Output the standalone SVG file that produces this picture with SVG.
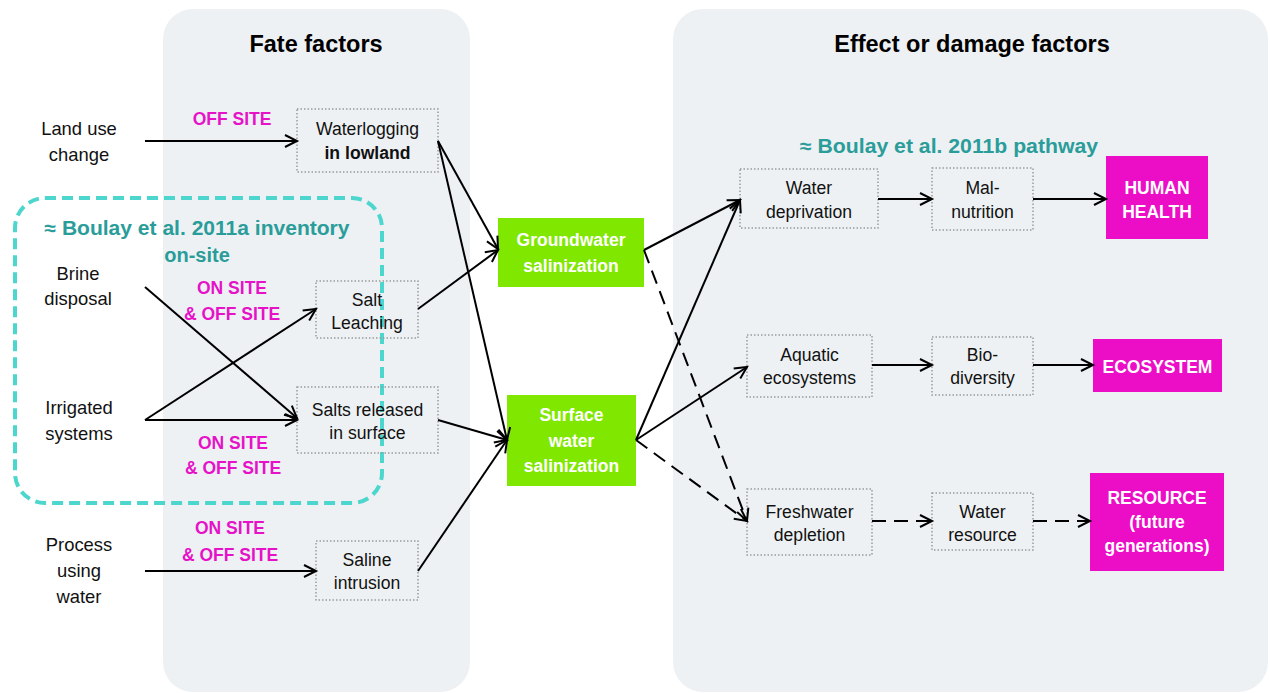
<svg xmlns="http://www.w3.org/2000/svg" width="1270" height="693" viewBox="0 0 1270 693">
<defs>
<style>
.panel{fill:#eef1f4;stroke:none}
.t{font-family:"Liberation Sans",Arial,sans-serif;font-size:17.6px;fill:#111;text-anchor:middle}
.lbl{font-family:"Liberation Sans",Arial,sans-serif;font-size:18.4px;fill:#111;text-anchor:middle}
.title{font-family:"Liberation Sans",Arial,sans-serif;font-size:23.5px;font-weight:bold;fill:#000;text-anchor:middle}
.mag{font-family:"Liberation Sans",Arial,sans-serif;font-size:17.5px;font-weight:bold;fill:#e512c8;text-anchor:middle}
.teal{font-family:"Liberation Sans",Arial,sans-serif;font-size:20px;font-weight:bold;fill:#2a9d9a;text-anchor:middle}
.w{font-family:"Liberation Sans",Arial,sans-serif;font-size:17.5px;font-weight:bold;fill:#fff;text-anchor:middle}
.dot{fill:none;stroke:#9a9a9a;stroke-width:1.5;stroke-dasharray:1.5 2}
.green{fill:#80e800}
.pink{fill:#ec0dc6}
.c{fill:none;stroke:#000;stroke-width:2;marker-end:url(#ah)}
.d{stroke-dasharray:14 8}
</style>
<marker id="ah" markerUnits="userSpaceOnUse" markerWidth="16" markerHeight="16" refX="13" refY="7" orient="auto" viewBox="0 0 16 14">
<path d="M1,1 L13,7 L1,13" fill="none" stroke="#000" stroke-width="2"/>
</marker>
</defs>
<rect width="1270" height="693" fill="#fff"/>
<g id="panels">
<rect class="panel" x="163" y="9" width="307" height="683" rx="30"/>
<rect class="panel" x="673" y="9" width="595" height="683" rx="30"/>
<text class="title" x="316" y="52">Fate factors</text>
<text class="title" x="972" y="52">Effect or damage factors</text>
</g>
<g id="inventory-frame">
<rect x="15" y="198" width="367" height="305" rx="30" fill="none" stroke="#4dd6cd" stroke-width="4" stroke-dasharray="11 6"/>
<text class="teal" x="197" y="235" textLength="305" lengthAdjust="spacingAndGlyphs">≈ Boulay et al. 2011a inventory</text>
<text class="teal" x="197" y="262">on-site</text>
</g>
<g id="pathway-label">
<text class="teal" x="949" y="153" textLength="298" lengthAdjust="spacingAndGlyphs">≈ Boulay et al. 2011b pathway</text>
</g>
<g id="land-use"><text class="lbl" x="79" y="135">Land use</text><text class="lbl" x="79" y="161">change</text></g>
<g id="brine"><text class="lbl" x="78" y="280">Brine</text><text class="lbl" x="78" y="305">disposal</text></g>
<g id="irrigated"><text class="lbl" x="79" y="414">Irrigated</text><text class="lbl" x="79" y="440">systems</text></g>
<g id="process"><text class="lbl" x="79" y="551">Process</text><text class="lbl" x="79" y="577">using</text><text class="lbl" x="79" y="603">water</text></g>
<g id="site-labels">
<text class="mag" x="232" y="125">OFF SITE</text>
<text class="mag" x="232" y="294">ON SITE</text><text class="mag" x="232" y="320">&amp; OFF SITE</text>
<text class="mag" x="233" y="449">ON SITE</text><text class="mag" x="233" y="474">&amp; OFF SITE</text>
<text class="mag" x="230" y="534">ON SITE</text><text class="mag" x="230" y="561">&amp; OFF SITE</text>
</g>
<g id="waterlogging"><rect class="dot" x="297" y="109" width="141" height="63"/><text class="t" x="367.5" y="135">Waterlogging</text><text class="t" x="367.5" y="159" font-weight="bold">in lowland</text></g>
<g id="salt-leaching"><rect class="dot" x="316" y="281" width="102" height="57"/><text class="t" x="367" y="306">Salt</text><text class="t" x="367" y="329">Leaching</text></g>
<g id="salts-released"><rect class="dot" x="297" y="387" width="141" height="66"/><text class="t" x="367.5" y="416">Salts released</text><text class="t" x="367.5" y="439">in surface</text></g>
<g id="saline-intrusion"><rect class="dot" x="316" y="541" width="102" height="59"/><text class="t" x="367" y="566">Saline</text><text class="t" x="367" y="589">intrusion</text></g>
<g id="groundwater"><rect class="green" x="498" y="218" width="146" height="69"/><text class="w" x="571" y="246">Groundwater</text><text class="w" x="571" y="272">salinization</text></g>
<g id="surface-water"><rect class="green" x="507" y="395" width="129" height="91"/><text class="w" x="571.5" y="421">Surface</text><text class="w" x="571.5" y="447">water</text><text class="w" x="571.5" y="472">salinization</text></g>
<g id="water-deprivation"><rect class="dot" x="740" y="169" width="138" height="59"/><text class="t" x="809" y="194">Water</text><text class="t" x="809" y="218">deprivation</text></g>
<g id="aquatic"><rect class="dot" x="747" y="335" width="125" height="62"/><text class="t" x="809.5" y="361">Aquatic</text><text class="t" x="809.5" y="384">ecosystems</text></g>
<g id="freshwater"><rect class="dot" x="747" y="489" width="125" height="66"/><text class="t" x="809.5" y="518">Freshwater</text><text class="t" x="809.5" y="541">depletion</text></g>
<g id="malnutrition"><rect class="dot" x="932" y="168" width="101" height="62"/><text class="t" x="982.5" y="194">Mal-</text><text class="t" x="982.5" y="218">nutrition</text></g>
<g id="biodiversity"><rect class="dot" x="932" y="337" width="101" height="58"/><text class="t" x="982.5" y="361">Bio-</text><text class="t" x="982.5" y="384">diversity</text></g>
<g id="water-resource"><rect class="dot" x="932" y="493" width="101" height="57"/><text class="t" x="982.5" y="518">Water</text><text class="t" x="982.5" y="541">resource</text></g>
<g id="human-health"><rect class="pink" x="1106" y="156" width="102" height="83"/><text class="w" x="1157" y="194">HUMAN</text><text class="w" x="1157" y="218">HEALTH</text></g>
<g id="ecosystem"><rect class="pink" x="1093" y="339" width="129" height="53"/><text class="w" x="1157.5" y="373">ECOSYSTEM</text></g>
<g id="resource"><rect class="pink" x="1090" y="473" width="134" height="98"/><text class="w" x="1157" y="504">RESOURCE</text><text class="w" x="1157" y="528">(future</text><text class="w" x="1157" y="552">generations)</text></g>
<g id="connectors">
<line class="c" x1="145" y1="141" x2="297" y2="141"/>
<line class="c" x1="145" y1="287" x2="297" y2="418"/>
<line class="c" x1="145" y1="420" x2="316" y2="309"/>
<line class="c" x1="145" y1="420" x2="297" y2="420"/>
<line class="c" x1="145" y1="571" x2="316" y2="571"/>
<line class="c" x1="438" y1="141" x2="498" y2="249"/>
<line class="c" x1="438" y1="141" x2="507" y2="440"/>
<line class="c" x1="418" y1="309" x2="498" y2="250"/>
<line class="c" x1="438" y1="420" x2="507" y2="440"/>
<line class="c" x1="418" y1="571" x2="507" y2="440"/>
<line class="c" x1="644" y1="250" x2="740" y2="200"/>
<line class="c d" x1="644" y1="250" x2="747" y2="521"/>
<line class="c" x1="636" y1="440" x2="740" y2="200"/>
<line class="c" x1="636" y1="440" x2="747" y2="367"/>
<line class="c d" x1="636" y1="440" x2="747" y2="521"/>
<line class="c" x1="878" y1="199" x2="932" y2="199"/>
<line class="c" x1="1033" y1="199" x2="1106" y2="199"/>
<line class="c" x1="872" y1="365" x2="932" y2="365"/>
<line class="c" x1="1033" y1="365" x2="1093" y2="365"/>
<line class="c d" x1="872" y1="521" x2="932" y2="521"/>
<line class="c d" x1="1033" y1="521" x2="1090" y2="521"/>
</g>
</svg>
